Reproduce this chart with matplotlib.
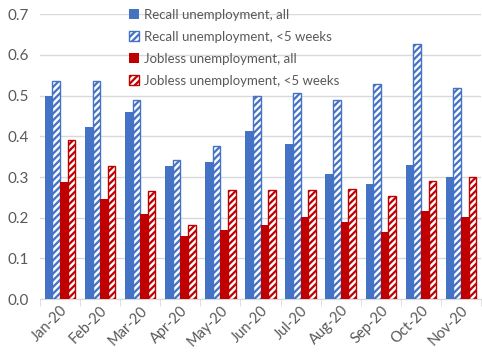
import numpy as np
import matplotlib
matplotlib.use("Agg")
import matplotlib.pyplot as plt

months = ["Jan-20", "Feb-20", "Mar-20", "Apr-20", "May-20", "Jun-20",
          "Jul-20", "Aug-20", "Sep-20", "Oct-20", "Nov-20"]
recall_all = [0.500, 0.423, 0.460, 0.328, 0.338, 0.413, 0.380, 0.307, 0.283, 0.330, 0.300]
recall_5wk = [0.535, 0.535, 0.488, 0.342, 0.375, 0.500, 0.507, 0.490, 0.528, 0.627, 0.518]
jobless_all = [0.287, 0.245, 0.209, 0.155, 0.170, 0.181, 0.202, 0.190, 0.164, 0.217, 0.201]
jobless_5wk = [0.390, 0.328, 0.265, 0.182, 0.268, 0.268, 0.267, 0.270, 0.254, 0.291, 0.301]

blue = "#4472C4"
red = "#C00000"
grey = "#595959"

plt.rcParams["font.family"] = ["Lato", "DejaVu Sans"]
plt.rcParams["hatch.linewidth"] = 1.6

fig = plt.figure(figsize=(4.82, 3.52), dpi=100)
ax = fig.add_axes([0.083, 0.15, 0.915, 0.81])

x = np.arange(len(months))
w = 0.19
ax.bar(x - 1.5 * w, recall_all, w, color=blue, label="Recall unemployment, all", zorder=3)
ax.bar(x - 0.5 * w, recall_5wk, w, color="white", edgecolor=blue, hatch="/////",
       linewidth=1, label="Recall unemployment, <5 weeks", zorder=3)
ax.bar(x + 0.5 * w, jobless_all, w, color=red, label="Jobless unemployment, all", zorder=3)
ax.bar(x + 1.5 * w, jobless_5wk, w, color="white", edgecolor=red, hatch="/////",
       linewidth=1, label="Jobless unemployment, <5 weeks", zorder=3)

ax.set_ylim(0, 0.7)
ax.set_yticks(np.arange(0, 0.71, 0.1))
ax.set_yticklabels([f"{v:.1f}" for v in np.arange(0, 0.71, 0.1)])
ax.set_xlim(-0.5, len(months) - 0.5)
ax.set_xticks(x)
ax.set_xticklabels(months, rotation=45, ha="right", rotation_mode="anchor")
ax.set_xticks(np.arange(-0.5, len(months), 1), minor=True)
ax.tick_params(axis="x", which="major", length=0, colors=grey, labelsize=10.5, pad=3)
ax.tick_params(axis="x", which="minor", length=5, color="#D9D9D9")
ax.tick_params(axis="y", length=0, colors=grey, labelsize=11, pad=8)

ax.grid(axis="y", color="#D9D9D9", linewidth=1, zorder=0)
for s in ["top", "right", "left"]:
    ax.spines[s].set_visible(False)
ax.spines["bottom"].set_color("#D9D9D9")

leg = ax.legend(loc="upper right", bbox_to_anchor=(0.705, 1.06), frameon=False,
                fontsize=9.5, handlelength=0.75, handleheight=0.75, handletextpad=0.35,
                labelspacing=0.75, labelcolor=grey)

fig.savefig("out.png", dpi=100)
